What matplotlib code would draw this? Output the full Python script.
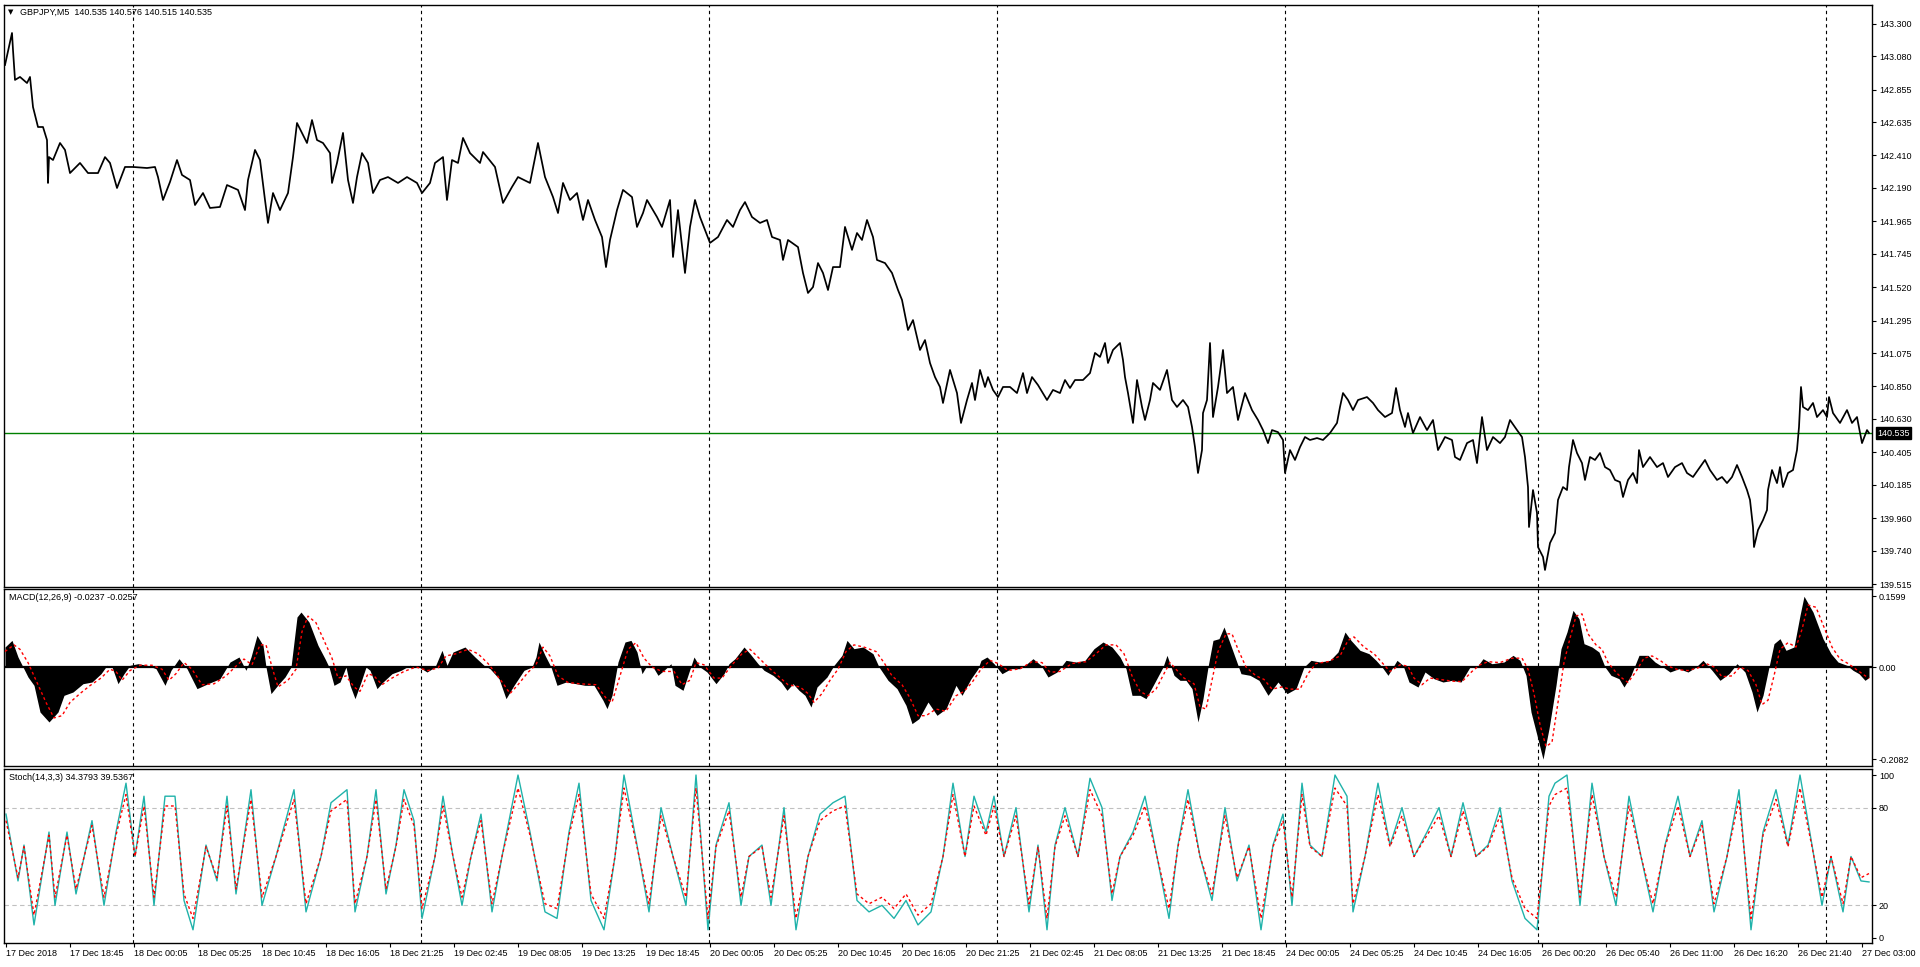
import matplotlib
matplotlib.use("Agg")
import matplotlib.pyplot as plt
from matplotlib.transforms import blended_transform_factory

plt.rcParams["font.family"] = ["Liberation Sans", "DejaVu Sans"]

# ---- data (x = bar number, 5 min bars) ----
price_bar = [
    -1, 6, 7, 9, 14, 21, 24, 27, 32, 37,
    41, 42, 43, 47, 54, 59, 64, 74, 82, 92,
    99, 104, 111, 119, 127, 141, 149, 152, 157, 164,
    171, 176, 184, 189, 197, 204, 214, 221, 232, 239,
    242, 249, 254, 259, 262, 267, 274, 282, 287, 291,
    296, 301, 306, 311, 317, 324, 326, 331, 337, 342,
    347, 351, 356, 362, 367, 374, 382, 392, 401, 411,
    416, 424, 429, 437, 441, 446, 452, 457, 464, 474,
    477, 489, 497, 506, 512, 524, 532, 539, 547, 552,
    557, 564, 571, 577, 582, 589, 596, 600, 604, 611,
    617, 626, 631, 637, 641, 651, 656, 664, 667, 672,
    679, 684, 689, 694, 699, 704, 712, 721, 727, 734,
    739, 746, 754, 761, 766, 774, 777, 782, 792, 797,
    802, 807, 812, 817, 822, 827, 834, 839, 846, 851,
    856, 861, 867, 871, 879, 886, 892, 896, 902, 907,
    914, 919, 924, 929, 934, 937, 944, 951, 955, 961,
    966, 969, 974, 979, 982, 987, 992, 997, 1004, 1011,
    1017, 1021, 1026, 1032, 1041, 1047, 1054, 1059, 1064, 1069,
    1077, 1084, 1089, 1094, 1099, 1102, 1107, 1114, 1117, 1119,
    1122, 1127, 1131, 1136, 1139, 1144, 1147, 1154, 1161, 1166,
    1171, 1177, 1182, 1186, 1189, 1192, 1196, 1197, 1201, 1204,
    1207, 1212, 1217, 1221, 1227, 1232, 1239, 1246, 1252, 1257,
    1262, 1266, 1272, 1277, 1279, 1284, 1289, 1294, 1299, 1304,
    1311, 1317, 1324, 1331, 1334, 1337, 1342, 1347, 1352, 1361,
    1367, 1372, 1379, 1386, 1390, 1394, 1399, 1402, 1407, 1414,
    1421, 1427, 1432, 1439, 1446, 1449, 1454, 1461, 1467, 1471,
    1476, 1481, 1487, 1494, 1499, 1504, 1511, 1516, 1519, 1522,
    1523, 1527, 1531, 1532, 1537, 1539, 1544, 1549, 1552, 1557,
    1561, 1563, 1567, 1571, 1576, 1579, 1584, 1589, 1594, 1599,
    1604, 1609, 1614, 1617, 1622, 1627, 1631, 1633, 1637, 1644,
    1651, 1657, 1662, 1669, 1676, 1681, 1687, 1694, 1699, 1704,
    1711, 1716, 1721, 1726, 1731, 1736, 1741, 1744, 1747, 1748,
    1752, 1757, 1761, 1762, 1766, 1771, 1774, 1777, 1782, 1787,
    1791, 1793, 1795, 1797, 1802, 1807, 1811, 1817, 1821, 1823,
    1827, 1834, 1841, 1846, 1851, 1856, 1861, 1863,
]
price_close = [
    143.021, 143.237, 143.122, 142.920, 142.940, 142.899, 142.940, 142.737, 142.602, 142.602,
    142.514, 142.224, 142.399, 142.379, 142.494, 142.447, 142.291, 142.359, 142.291, 142.291,
    142.399, 142.359, 142.190, 142.332, 142.332, 142.325, 142.332, 142.264, 142.109, 142.231,
    142.379, 142.278, 142.244, 142.075, 142.156, 142.055, 142.062, 142.210, 142.177, 142.041,
    142.244, 142.447, 142.379, 142.109, 141.954, 142.156, 142.041, 142.156, 142.399, 142.629,
    142.562, 142.494, 142.649, 142.514, 142.494, 142.426, 142.224, 142.359, 142.562, 142.244,
    142.089, 142.264, 142.426, 142.359, 142.156, 142.244, 142.264, 142.224, 142.264, 142.224,
    142.156, 142.224, 142.359, 142.399, 142.109, 142.379, 142.359, 142.528, 142.426, 142.359,
    142.433, 142.332, 142.089, 142.197, 142.264, 142.224, 142.494, 142.264, 142.129, 142.021,
    142.224, 142.109, 142.156, 141.974, 142.109, 141.974, 141.859, 141.656, 141.839, 142.041,
    142.177, 142.129, 141.927, 142.021, 142.109, 141.994, 141.927, 142.109, 141.724, 142.041,
    141.616, 141.927, 142.109, 141.994, 141.906, 141.819, 141.859, 141.974, 141.927, 142.041,
    142.095, 141.994, 141.954, 141.974, 141.859, 141.839, 141.704, 141.839, 141.791, 141.616,
    141.481, 141.521, 141.683, 141.616, 141.501, 141.656, 141.656, 141.927, 141.772, 141.886,
    141.839, 141.974, 141.859, 141.704, 141.683, 141.616, 141.501, 141.434, 141.231, 141.298,
    141.096, 141.163, 141.008, 140.913, 140.846, 140.738, 140.961, 140.805, 140.603, 140.758,
    140.873, 140.758, 140.961, 140.846, 140.913, 140.826, 140.778, 140.846, 140.846, 140.805,
    140.940, 140.805, 140.913, 140.859, 140.758, 140.826, 140.805, 140.893, 140.839, 140.893,
    140.893, 140.940, 141.076, 141.049, 141.143, 141.008, 141.096, 141.143, 141.028, 140.913,
    140.805, 140.603, 140.893, 140.711, 140.623, 140.758, 140.873, 140.826, 140.961, 140.758,
    140.711, 140.758, 140.711, 140.576, 140.440, 140.265, 140.420, 140.670, 140.758, 141.143,
    140.643, 140.846, 141.096, 140.805, 140.846, 140.623, 140.805, 140.690, 140.623, 140.555,
    140.467, 140.555, 140.541, 140.488, 140.265, 140.420, 140.353, 140.440, 140.508, 140.488,
    140.501, 140.488, 140.535, 140.603, 140.711, 140.805, 140.758, 140.690, 140.758, 140.778,
    140.738, 140.690, 140.643, 140.670, 140.839, 140.690, 140.576, 140.670, 140.535, 140.643,
    140.555, 140.623, 140.420, 140.508, 140.488, 140.373, 140.353, 140.467, 140.488, 140.332,
    140.643, 140.420, 140.508, 140.467, 140.508, 140.623, 140.555, 140.508, 140.373, 140.170,
    139.900, 140.150, 139.995, 139.765, 139.698, 139.610, 139.792, 139.860, 140.083, 140.170,
    140.150, 140.305, 140.488, 140.400, 140.332, 140.218, 140.373, 140.353, 140.400, 140.305,
    140.285, 140.218, 140.204, 140.103, 140.218, 140.265, 140.197, 140.420, 140.305, 140.373,
    140.305, 140.332, 140.238, 140.305, 140.332, 140.265, 140.238, 140.305, 140.353, 140.285,
    140.218, 140.238, 140.197, 140.238, 140.319, 140.238, 140.150, 140.083, 139.900, 139.765,
    139.880, 139.947, 140.015, 140.150, 140.285, 140.197, 140.305, 140.170, 140.265, 140.285,
    140.420, 140.576, 140.846, 140.711, 140.690, 140.738, 140.643, 140.690, 140.643, 140.778,
    140.670, 140.603, 140.690, 140.603, 140.643, 140.467, 140.555, 140.535,
]
last_price = 140.535

macd_bar = [
    -1, 6, 12, 17, 22, 28, 34, 43, 52, 58,
    67, 77, 86, 95, 101, 106, 112, 118, 124, 132,
    141, 150, 159, 165, 173, 181, 191, 202, 214, 224,
    233, 240, 245, 251, 257, 260, 265, 273, 279, 285,
    291, 295, 303, 312, 319, 323, 328, 334, 340, 344,
    349, 355, 360, 364, 371, 377, 386, 395, 404, 413,
    421, 429, 436, 441, 447, 459, 469, 478, 484, 493,
    500, 508, 518, 526, 530, 533, 539, 545, 551, 560,
    570, 579, 588, 597, 601, 606, 612, 619, 625, 631,
    636, 640, 646, 652, 658, 665, 669, 677, 683, 688,
    694, 701, 710, 718, 723, 729, 738, 744, 752, 758,
    767, 775, 781, 787, 793, 799, 805, 811, 821, 828,
    836, 841, 848, 857, 867, 873, 882, 891, 900, 906,
    913, 922, 931, 940, 950, 956, 965, 972, 975, 981,
    988, 996, 1005, 1014, 1021, 1027, 1035, 1042, 1051, 1060,
    1070, 1079, 1088, 1097, 1106, 1114, 1120, 1126, 1134, 1140,
    1149, 1157, 1161, 1168, 1174, 1180, 1186, 1192, 1197, 1202,
    1207, 1213, 1218, 1223, 1229, 1235, 1244, 1253, 1262, 1272,
    1281, 1290, 1298, 1305, 1314, 1324, 1332, 1339, 1345, 1354,
    1363, 1370, 1376, 1382, 1391, 1397, 1403, 1412, 1419, 1428,
    1437, 1446, 1455, 1464, 1471, 1477, 1486, 1498, 1507, 1514,
    1520, 1525, 1531, 1537, 1543, 1550, 1555, 1561, 1567, 1573,
    1578, 1586, 1593, 1599, 1605, 1613, 1618, 1625, 1633, 1642,
    1649, 1657, 1664, 1673, 1682, 1690, 1697, 1706, 1714, 1723,
    1731, 1739, 1746, 1751, 1757, 1763, 1768, 1774, 1780, 1788,
    1794, 1798, 1807, 1817, 1825, 1832, 1841, 1847, 1853, 1859,
    1863,
]
macd_main = [
    0.0452, 0.0602, 0.0226, 0.0, -0.0226, -0.0414, -0.1017, -0.1242, -0.1017, -0.0640,
    -0.0565, -0.0377, -0.0339, -0.0151, 0.0038, 0.0, -0.0377, -0.0151, 0.0038, 0.0075,
    0.0038, -0.0038, -0.0414, -0.0075, 0.0188, -0.0038, -0.0489, -0.0377, -0.0264, 0.0113,
    0.0226, -0.0075, 0.0226, 0.0715, 0.0489, 0.0, -0.0602, -0.0377, -0.0226, 0.0,
    0.1130, 0.1242, 0.1017, 0.0489, 0.0188, 0.0, -0.0414, -0.0339, 0.0, -0.0414,
    -0.0715, -0.0339, 0.0, -0.0075, -0.0489, -0.0339, -0.0151, -0.0075, 0.0038, 0.0,
    -0.0113, 0.0, 0.0377, 0.0038, 0.0339, 0.0452, 0.0226, 0.0038, -0.0038, -0.0264,
    -0.0715, -0.0414, -0.0075, 0.0, 0.0226, 0.0565, 0.0264, 0.0, -0.0414, -0.0339,
    -0.0377, -0.0414, -0.0414, -0.0753, -0.0941, -0.0640, 0.0113, 0.0565, 0.0602, 0.0339,
    -0.0151, 0.0, 0.0038, -0.0188, -0.0075, 0.0075, -0.0414, -0.0527, -0.0113, 0.0226,
    0.0, -0.0113, -0.0377, -0.0151, 0.0075, 0.0188, 0.0452, 0.0301, 0.0075, -0.0075,
    -0.0188, -0.0339, -0.0527, -0.0377, -0.0527, -0.0640, -0.0904, -0.0452, -0.0226, 0.0038,
    0.0264, 0.0602, 0.0414, 0.0452, 0.0301, 0.0, -0.0301, -0.0489, -0.0866, -0.1280,
    -0.1167, -0.0791, -0.1092, -0.0941, -0.0414, -0.0640, -0.0264, -0.0038, 0.0151, 0.0226,
    0.0075, -0.0151, -0.0038, -0.0038, 0.0075, 0.0188, 0.0038, -0.0226, -0.0113, 0.0151,
    0.0113, 0.0151, 0.0414, 0.0565, 0.0452, 0.0226, -0.0038, -0.0640, -0.0640, -0.0715,
    -0.0339, 0.0, 0.0264, -0.0188, -0.0301, -0.0301, -0.0489, -0.1242, -0.0715, 0.0,
    0.0602, 0.0640, 0.0904, 0.0602, 0.0226, -0.0151, -0.0188, -0.0301, -0.0640, -0.0339,
    -0.0602, -0.0489, 0.0, 0.0151, 0.0113, 0.0151, 0.0339, 0.0791, 0.0602, 0.0377,
    0.0301, 0.0151, 0.0, -0.0188, 0.0151, 0.0038, -0.0339, -0.0452, -0.0113, -0.0264,
    -0.0339, -0.0301, -0.0339, 0.0, 0.0, 0.0188, 0.0075, 0.0113, 0.0264, 0.0151,
    -0.0188, -0.1017, -0.1544, -0.2082, -0.1393, -0.0414, 0.0414, 0.0791, 0.1280, 0.1092,
    0.0527, 0.0452, 0.0339, 0.0, -0.0188, -0.0264, -0.0452, -0.0188, 0.0264, 0.0264,
    0.0113, 0.0, -0.0113, -0.0038, -0.0113, 0.0, 0.0151, -0.0075, -0.0301, -0.0151,
    0.0075, -0.0113, -0.0565, -0.1017, -0.0640, 0.0, 0.0527, 0.0640, 0.0377, 0.0452,
    0.1167, 0.1599, 0.1242, 0.0640, 0.0301, 0.0113, 0.0038, -0.0075, -0.0151, -0.0301,
    -0.0237,
]

signal_bar = [
    -1, 8, 14, 22, 30, 40, 48, 56, 64, 74,
    84, 95, 104, 110, 116, 124, 134, 146, 156, 163,
    170, 178, 186, 196, 208, 220, 230, 238, 246, 254,
    260, 266, 272, 282, 290, 296, 302, 310, 318, 326,
    332, 340, 348, 354, 362, 368, 376, 386, 398, 410,
    422, 432, 440, 450, 462, 472, 482, 490, 498, 504,
    512, 522, 530, 537, 544, 552, 562, 574, 590, 600,
    606, 614, 622, 630, 638, 646, 656, 668, 676, 684,
    690, 698, 708, 716, 726, 736, 744, 754, 762, 772,
    782, 794, 802, 808, 816, 824, 832, 840, 848, 858,
    870, 878, 886, 896, 904, 912, 920, 930, 940, 950,
    958, 966, 975, 984, 992, 1002, 1014, 1026, 1036, 1044,
    1054, 1066, 1080, 1090, 1100, 1110, 1118, 1126, 1134, 1142,
    1150, 1158, 1164, 1170, 1178, 1188, 1194, 1200, 1206, 1212,
    1220, 1226, 1232, 1240, 1250, 1258, 1266, 1276, 1284, 1294,
    1302, 1310, 1322, 1334, 1342, 1348, 1358, 1368, 1376, 1384,
    1394, 1402, 1408, 1416, 1424, 1434, 1446, 1456, 1466, 1474,
    1482, 1494, 1506, 1516, 1522, 1528, 1534, 1540, 1546, 1552,
    1558, 1564, 1570, 1576, 1582, 1590, 1596, 1602, 1610, 1616,
    1622, 1630, 1638, 1646, 1654, 1662, 1672, 1682, 1692, 1700,
    1708, 1716, 1726, 1734, 1742, 1750, 1756, 1762, 1768, 1774,
    1782, 1790, 1796, 1802, 1810, 1818, 1826, 1834, 1842, 1850,
    1858, 1863,
]
macd_signal = [
    0.035, 0.050, 0.040, 0.010, -0.030, -0.080, -0.115, -0.110, -0.080, -0.060,
    -0.042, -0.025, -0.005, -0.010, -0.030, -0.008, 0.004, 0.004, -0.005, -0.030,
    -0.015, 0.010, -0.005, -0.040, -0.038, -0.020, 0.002, 0.018, 0.005, 0.050,
    0.050, 0.000, -0.045, -0.030, -0.005, 0.080, 0.115, 0.100, 0.060, 0.020,
    -0.025, -0.020, -0.045, -0.055, -0.015, -0.020, -0.040, -0.025, -0.010, 0.000,
    -0.008, -0.002, 0.025, 0.030, 0.040, 0.030, 0.008, -0.015, -0.040, -0.060,
    -0.040, -0.012, 0.005, 0.045, 0.025, -0.020, -0.035, -0.038, -0.040, -0.070,
    -0.080, -0.020, 0.040, 0.055, 0.020, 0.000, -0.010, -0.010, -0.040, -0.030,
    0.010, 0.005, -0.025, -0.025, 0.005, 0.030, 0.040, 0.018, 0.000, -0.020,
    -0.040, -0.045, -0.060, -0.080, -0.060, -0.030, -0.005, 0.035, 0.050, 0.045,
    0.035, 0.010, -0.020, -0.040, -0.070, -0.110, -0.110, -0.095, -0.100, -0.065,
    -0.055, -0.035, -0.005, 0.015, 0.008, -0.008, -0.004, 0.012, 0.010, -0.012,
    -0.010, 0.008, 0.012, 0.030, 0.050, 0.050, 0.030, -0.020, -0.055, -0.065,
    -0.050, -0.015, 0.010, -0.005, -0.025, -0.038, -0.090, -0.095, -0.030, 0.035,
    0.075, 0.075, 0.040, 0.000, -0.020, -0.028, -0.050, -0.045, -0.050, -0.050,
    -0.015, 0.008, 0.012, 0.025, 0.060, 0.068, 0.045, 0.030, 0.010, -0.010,
    0.005, 0.002, -0.025, -0.040, -0.025, -0.028, -0.032, -0.033, -0.010, 0.005,
    0.012, 0.010, 0.020, 0.020, -0.005, -0.060, -0.130, -0.180, -0.170, -0.080,
    0.010, 0.065, 0.115, 0.120, 0.075, 0.050, 0.040, 0.010, -0.012, -0.025,
    -0.035, -0.010, 0.020, 0.025, 0.015, 0.002, -0.006, -0.008, -0.002, 0.008,
    0.000, -0.022, -0.020, 0.000, -0.008, -0.040, -0.085, -0.075, -0.020, 0.040,
    0.055, 0.045, 0.085, 0.140, 0.135, 0.090, 0.045, 0.018, 0.008, -0.005,
    -0.018, -0.0257,
]

stoch_bar = [
    0, 12, 18, 28, 43, 49, 61, 70, 86, 98,
    110, 120, 129, 138, 148, 159, 169, 178, 187, 200,
    211, 221, 230, 245, 256, 270, 288, 300, 315, 325,
    341, 349, 361, 370, 380, 390, 398, 408, 416, 429,
    437, 447, 456, 465, 475, 486, 496, 512, 524, 539,
    551, 563, 573, 585, 598, 609, 618, 631, 643, 655,
    667, 680, 690, 702, 710, 723, 735, 743, 756, 765,
    778, 790, 802, 814, 827, 839, 851, 863, 876, 888,
    900, 912, 925, 937, 947, 959, 968, 980, 988, 998,
    1010, 1023, 1032, 1041, 1049, 1059, 1072, 1084, 1096, 1106,
    1114, 1127, 1139, 1151, 1163, 1172, 1182, 1194, 1206, 1219,
    1231, 1243, 1255, 1267, 1277, 1286, 1296, 1304, 1316, 1329,
    1341, 1347, 1359, 1372, 1384, 1396, 1408, 1421, 1433, 1445,
    1457, 1470, 1482, 1494, 1506, 1519, 1531, 1543, 1549, 1561,
    1574, 1586, 1598, 1610, 1623, 1635, 1647, 1659, 1672, 1684,
    1696, 1708, 1721, 1733, 1745, 1757, 1770, 1782, 1794, 1806,
    1816, 1825, 1837, 1845, 1855, 1863,
]
stoch_main = [
    76, 35, 57, 8, 65, 20, 65, 27, 72, 20,
    65, 95, 50, 87, 20, 87, 87, 23, 5, 57,
    35, 87, 27, 91, 20, 50, 91, 16, 50, 83,
    91, 16, 50, 91, 27, 57, 91, 72, 12, 50,
    87, 50, 20, 50, 76, 16, 50, 100, 65, 16,
    12, 65, 95, 23, 5, 50, 100, 57, 16, 80,
    50, 20, 100, 5, 57, 83, 20, 50, 57, 20,
    80, 5, 50, 76, 83, 87, 23, 16, 20, 12,
    23, 8, 16, 50, 95, 50, 87, 65, 87, 50,
    80, 16, 57, 5, 57, 80, 50, 98, 80, 23,
    50, 65, 87, 50, 12, 57, 91, 50, 23, 80,
    35, 57, 5, 57, 76, 20, 95, 57, 50, 100,
    87, 16, 50, 95, 57, 80, 50, 65, 80, 50,
    83, 50, 57, 80, 35, 12, 5, 87, 95, 100,
    20, 95, 50, 20, 87, 50, 16, 57, 87, 50,
    72, 16, 50, 91, 5, 65, 91, 57, 100, 57,
    20, 50, 16, 50, 35, 34.38,
]
stoch_signal = [
    72, 37, 56, 14, 63, 25, 63, 30, 69, 25,
    63, 88, 50, 81, 25, 81, 81, 27, 12, 56,
    37, 81, 30, 85, 25, 50, 85, 21, 50, 78,
    85, 21, 50, 85, 30, 56, 85, 69, 18, 50,
    81, 50, 25, 50, 72, 21, 50, 92, 63, 21,
    18, 63, 88, 27, 12, 50, 92, 56, 21, 75,
    50, 25, 92, 12, 56, 78, 25, 50, 56, 25,
    75, 12, 50, 72, 78, 81, 27, 21, 25, 18,
    27, 14, 21, 50, 88, 50, 81, 63, 81, 50,
    75, 21, 56, 12, 56, 75, 50, 91, 75, 27,
    50, 63, 81, 50, 18, 56, 85, 50, 27, 75,
    37, 56, 12, 56, 72, 25, 88, 56, 50, 92,
    81, 21, 50, 88, 56, 75, 50, 63, 75, 50,
    78, 50, 56, 75, 37, 18, 12, 81, 88, 92,
    25, 88, 50, 25, 81, 50, 21, 56, 81, 50,
    69, 21, 50, 85, 12, 63, 85, 56, 92, 56,
    25, 50, 21, 50, 37, 39.54,
]

# day separators (00:00 bars) and time axis labels (one every 64 bars)
day_start_bar = [127, 415, 703, 991, 1279, 1532, 1820]
time_label_bar = list(range(0, 1920, 64))
time_labels = [
    "17 Dec 2018", "17 Dec 18:45", "18 Dec 00:05", "18 Dec 05:25", "18 Dec 10:45",
    "18 Dec 16:05", "18 Dec 21:25", "19 Dec 02:45", "19 Dec 08:05", "19 Dec 13:25",
    "19 Dec 18:45", "20 Dec 00:05", "20 Dec 05:25", "20 Dec 10:45", "20 Dec 16:05",
    "20 Dec 21:25", "21 Dec 02:45", "21 Dec 08:05", "21 Dec 13:25", "21 Dec 18:45",
    "24 Dec 00:05", "24 Dec 05:25", "24 Dec 10:45", "24 Dec 16:05", "26 Dec 00:20",
    "26 Dec 05:40", "26 Dec 11:00", "26 Dec 16:20", "26 Dec 21:40", "27 Dec 03:00",
]
price_ticks = [143.300, 143.080, 142.855, 142.635, 142.410, 142.190, 141.965, 141.745,
               141.520, 141.295, 141.075, 140.850, 140.630, 140.405, 140.185, 139.960,
               139.740, 139.515]
macd_ticks = [0.1599, 0.0, -0.2082]
macd_tick_labels = ["0.1599", "0.00", "-0.2082"]
stoch_ticks = [100, 80, 20, 0]

W, H = 1920, 967
FS = 6.5


def px_rect(left, top, right, bottom):
    return [left / W, 1 - bottom / H, (right - left) / W, (bottom - top) / H]


def make_panel(rect, ylim):
    ax = fig.add_axes(rect)
    ax.set_xlim(-2, 1866)
    ax.set_ylim(*ylim)
    for s in ax.spines.values():
        s.set_linewidth(1.0)
        s.set_color("black")
    ax.yaxis.tick_right()
    ax.tick_params(axis="y", direction="out", length=3, width=0.8, pad=2,
                   labelsize=FS, colors="black")
    ax.set_xticks([])
    for b in day_start_bar:
        ax.axvline(b, color="black", ls=(0, (3, 3)), lw=0.8, zorder=1)
    return ax


fig = plt.figure(figsize=(W / 100, H / 100), dpi=100)
fig.patch.set_facecolor("white")

# price panel
ax_p = make_panel(px_rect(4, 5, 1872, 587), (139.495, 143.426))
ax_p.axhline(last_price, color="#008000", lw=1, zorder=2)
ax_p.plot(price_bar, price_close, color="black", lw=1.25, zorder=3)
ax_p.set_yticks(price_ticks)
ax_p.set_yticklabels([f"{v:.3f}" for v in price_ticks])
tr = blended_transform_factory(ax_p.transAxes, ax_p.transData)
ax_p.text(1.0028, last_price, f"{last_price:.3f}", transform=tr, ha="left", va="center",
          color="white", fontsize=FS, zorder=10,
          bbox=dict(boxstyle="square,pad=0.18", fc="black", ec="black"))

# MACD panel
ax_m = make_panel(px_rect(4, 589, 1872, 766), (-0.2237, 0.1763))
ax_m.fill_between(macd_bar, macd_main, 0, color="black", lw=0, zorder=2)
ax_m.axhline(0, color="black", lw=1.6, zorder=2)
ax_m.plot(signal_bar, macd_signal, color="red", ls=(0, (2, 2)), lw=1, zorder=3)
ax_m.set_yticks(macd_ticks)
ax_m.set_yticklabels(macd_tick_labels)

# Stochastic panel
ax_s = make_panel(px_rect(4, 769, 1872, 943), (-3.1, 103.7))
for lvl in (80, 20):
    ax_s.axhline(lvl, color="#c0c0c0", ls=(0, (4, 3)), lw=0.8, zorder=1)
ax_s.plot(stoch_bar, stoch_main, color="#20b2aa", lw=1, zorder=2)
ax_s.plot(stoch_bar, stoch_signal, color="red", ls=(0, (2, 2)), lw=1, zorder=3)
ax_s.set_yticks(stoch_ticks)
ax_s.set_yticklabels([str(v) for v in stoch_ticks])
ax_s.set_xticks(time_label_bar)
ax_s.set_xticklabels(time_labels, ha="left")
ax_s.tick_params(axis="x", direction="out", length=3, width=0.8, pad=1.5, labelsize=FS)

# headers
fig.text(8 / W, 1 - 12.5 / H, "\u25bc", fontsize=5, va="center", family="DejaVu Sans")
fig.text(20 / W, 1 - 12.5 / H, "GBPJPY,M5  140.535 140.576 140.515 140.535",
         fontsize=FS, va="center")
fig.text(9 / W, 1 - 598 / H, "MACD(12,26,9) -0.0237 -0.0257", fontsize=FS, va="center")
fig.text(9 / W, 1 - 777 / H, "Stoch(14,3,3) 34.3793 39.5367", fontsize=FS, va="center")

fig.savefig("out.png", dpi=100, facecolor="white")
